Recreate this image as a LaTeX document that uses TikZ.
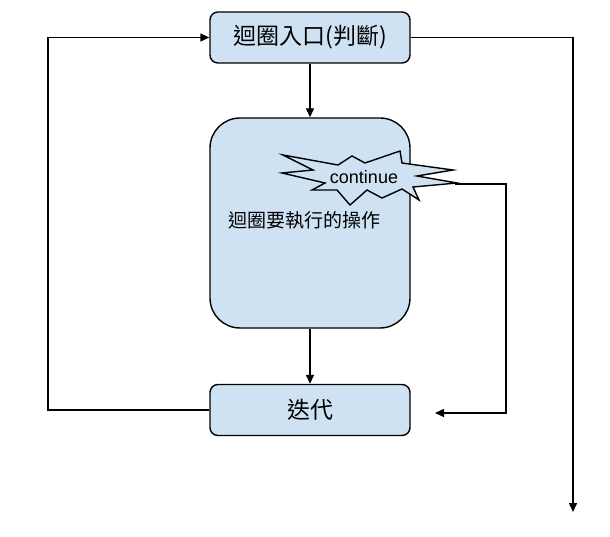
\documentclass[tikz,border=0pt]{standalone}
\usepackage{fontspec}
\newfontfamily\cjk{Noto Sans CJK TC}
\setmainfont{Liberation Sans}
\usetikzlibrary{arrows.meta}
\definecolor{boxfill}{HTML}{CFE2F3}
\tikzset{
  flowbox/.style={draw=black, line width=1.4pt, fill=boxfill, minimum width=200pt, minimum height=51pt, rounded corners=8pt, inner sep=0pt},
  conn/.style={line width=1.4pt, -{Triangle[length=9pt,width=8pt]}}
}
\begin{document}
\begin{tikzpicture}[x=1pt,y=-1pt]
\useasboundingbox (0,0) rectangle (610,537);
\node[flowbox] (entry) at (310,37.5) {\cjk\fontsize{23pt}{26pt}\selectfont 迴圈入口(判斷)};
\node[flowbox, minimum height=210pt, rounded corners=30pt] (body) at (310,223) {};
\node[flowbox] (iter) at (310,410) {\cjk\fontsize{23pt}{26pt}\selectfont 迭代};
\node[anchor=west, inner sep=0pt] (bodytext) at (228,220) {\cjk\fontsize{19pt}{21pt}\selectfont 迴圈要執行的操作};
% starburst
\draw[line width=1.4pt, fill=boxfill, line join=miter]
  (283,155) -- (338,165) -- (352,156) -- (365,163) -- (400,151) -- (402,163)
  -- (453,170) -- (417,176) -- (457,183) -- (413,187) -- (419,200) -- (402,189)
  -- (382,198) -- (367,190) -- (350,205) -- (337,190) -- (312,190) -- (325,183)
  -- (282,173) -- (313,170) -- cycle;
\node[inner sep=0pt] (cont) at (364,177) {\fontsize{18pt}{20pt}\selectfont continue};
\coordinate (burstR) at (455,184);
\coordinate (leftTop) at (48,37.5);
\coordinate (leftBot) at (48,410);
\coordinate (rightTop) at (573,37.5);
\coordinate (exitEnd) at (573,512);
\coordinate (contR) at (506,184);
\coordinate (contB) at (506,413);
\coordinate (contEnd) at (435,413);
\draw[conn] (entry) -- (body);
\draw[conn] (body) -- (iter);
\draw[conn] (iter.west) -- (leftBot) -- (leftTop) -- (entry.west);
\draw[conn] (entry.east) -- (rightTop) -- (exitEnd);
\draw[conn] (burstR) -- (contR) -- (contB) -- (contEnd);
\end{tikzpicture}
\end{document}
